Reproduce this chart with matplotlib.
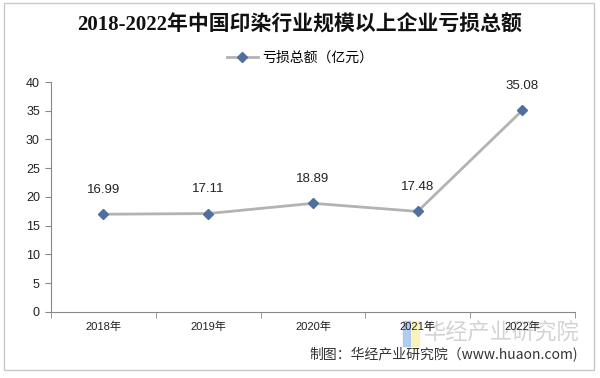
import matplotlib
matplotlib.use("Agg")
import matplotlib.pyplot as plt
from matplotlib.patches import Rectangle

plt.rcParams['font.family'] = ['Liberation Sans', 'Noto Sans CJK SC', 'DejaVu Sans']

years = ["2018年", "2019年", "2020年", "2021年", "2022年"]
values = [16.99, 17.11, 18.89, 17.48, 35.08]
yticks = [0, 5, 10, 15, 20, 25, 30, 35, 40]
title = "2018-2022年中国印染行业规模以上企业亏损总额"
series_name = "亏损总额（亿元）"
footer = "制图：华经产业研究院（www.huaon.com)"
watermark = "华经产业研究院"

fig = plt.figure(figsize=(6, 3.78), dpi=100)
fig.patch.set_facecolor("white")
ax = fig.add_axes([0.085, 0.175, 0.873, 0.608])
ax.set_zorder(2)
ax.patch.set_alpha(0)

x = list(range(len(years)))
line, = ax.plot(x, values, color="#b3b3b3", lw=2, marker="D", ms=5,
                mfc="#4f6f9f", mec="#4f6f9f", label=series_name, zorder=3)
for xi, v in zip(x, values):
    ax.annotate(f"{v:.2f}", (xi, v), xytext=(0, 13), textcoords="offset points",
                ha="center", va="bottom", fontsize=9.5, color="#222222")

ax.set_xlim(-0.5, len(years) - 0.5)
ax.set_ylim(0, 40)
ax.set_yticks(yticks)
ax.set_yticklabels([str(t) for t in yticks], fontsize=9, color="#222222")
ax.set_xticks(x)
ax.set_xticklabels(years, fontsize=8, color="#222222")
ax.set_xticks([i - 0.5 for i in range(len(years) + 1)], minor=True)
ax.tick_params(axis="x", which="major", length=0, pad=7)
ax.tick_params(axis="x", which="minor", length=4, color="#888888")
ax.tick_params(axis="y", length=4, color="#888888", pad=4)
for s in ["top", "right"]:
    ax.spines[s].set_visible(False)
for s in ["left", "bottom"]:
    ax.spines[s].set_color("#888888")
    ax.spines[s].set_linewidth(0.8)

fig.text(0.5, 0.934, title, ha="center", va="center", fontsize=15, fontweight="bold",
         family=["Liberation Serif", "Noto Sans CJK SC"], color="#111111")
fig.legend(handles=[line], loc="center", bbox_to_anchor=(0.5, 0.847), frameon=False,
           handlelength=2.2, handletextpad=0.3,
           prop={"family": ["Noto Sans CJK SC"], "size": 10})

# watermark (behind the axes) and footer
fig.patches.append(Rectangle((0.672, 0.085), 0.012, 0.065, transform=fig.transFigure,
                             color="#aac6ee", alpha=0.9, zorder=-2))
fig.patches.append(Rectangle((0.686, 0.085), 0.012, 0.065, transform=fig.transFigure,
                             color="#fbf0b4", alpha=0.9, zorder=-2))
fig.text(0.835, 0.118, watermark, ha="center", va="center", fontsize=16,
         color="#cccccc", alpha=0.85, family=["Noto Sans CJK SC"], zorder=-1)
fig.text(0.963, 0.063, footer, ha="right", va="center", fontsize=10,
         color="#333333", family=["Noto Sans CJK SC", "DejaVu Sans"], zorder=3)

fig.patches.append(Rectangle((0.006, 0.02), 0.984, 0.972, transform=fig.transFigure,
                             fill=False, edgecolor="#c8c8c8", lw=1))

fig.savefig("out.png", dpi=100)
